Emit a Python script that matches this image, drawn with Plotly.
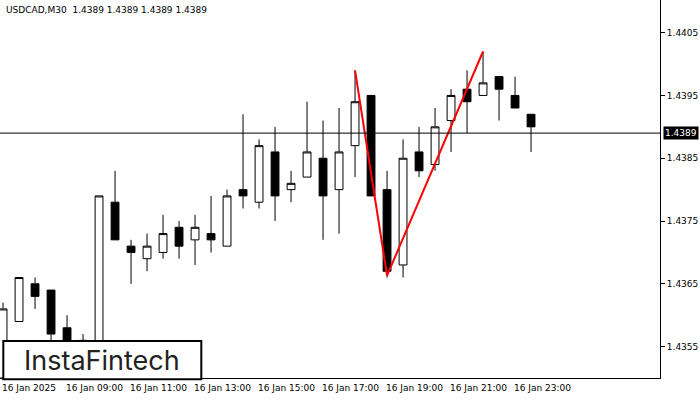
import plotly.graph_objects as go

# 30-minute candles, 16 Jan 2025 from 07:00
idx = list(range(34))
opens = [1.4350, 1.4359, 1.4365, 1.4364, 1.4358, 1.4354, 1.4354, 1.4378, 1.4371, 1.4369,
         1.4370, 1.4374, 1.4372, 1.4373, 1.4371, 1.4380, 1.4378, 1.4386, 1.4380, 1.4382,
         1.4385, 1.4380, 1.4387, 1.4395, 1.4380, 1.4368, 1.4386, 1.4384, 1.4391, 1.4396,
         1.4395, 1.4398, 1.4395, 1.4392]
highs = [1.4362, 1.4366, 1.4366, 1.4364, 1.4360, 1.4357, 1.4379, 1.4383, 1.4372, 1.4373,
         1.4376, 1.4375, 1.4376, 1.4379, 1.4380, 1.4392, 1.4388, 1.4390, 1.4383, 1.4394,
         1.4391, 1.4393, 1.4399, 1.4395, 1.4383, 1.4388, 1.4390, 1.4393, 1.4396, 1.4399,
         1.4402, 1.4398, 1.4398, 1.4392]
lows = [1.4348, 1.4359, 1.4361, 1.4356, 1.4353, 1.4352, 1.4352, 1.4372, 1.4365, 1.4367,
        1.4369, 1.4369, 1.4368, 1.4370, 1.4371, 1.4377, 1.4377, 1.4375, 1.4378, 1.4382,
        1.4372, 1.4373, 1.4382, 1.4379, 1.4366, 1.4366, 1.4382, 1.4383, 1.4386, 1.4389,
        1.4395, 1.4391, 1.4393, 1.4386]
closes = [1.4361, 1.4366, 1.4363, 1.4357, 1.4355, 1.4356, 1.4379, 1.4372, 1.4370, 1.4371,
          1.4373, 1.4371, 1.4374, 1.4372, 1.4379, 1.4379, 1.4387, 1.4379, 1.4381, 1.4386,
          1.4379, 1.4386, 1.4394, 1.4379, 1.4367, 1.4385, 1.4383, 1.4390, 1.4395, 1.4394,
          1.4397, 1.4396, 1.4393, 1.4390]

pattern_x = [22, 24, 30]
pattern_y = [1.4399, 1.43663, 1.4402]

last_price = 1.4389
ytick_vals = [1.4355, 1.4365, 1.4375, 1.4385, 1.4395, 1.4405]
time_idx = [0, 4, 8, 12, 16, 20, 24, 28, 32]
time_labels = ['16 Jan 2025', '16 Jan 09:00', '16 Jan 11:00', '16 Jan 13:00', '16 Jan 15:00',
               '16 Jan 17:00', '16 Jan 19:00', '16 Jan 21:00', '16 Jan 23:00']

fig = go.Figure()
fig.add_trace(go.Candlestick(
    x=idx, open=opens, high=highs, low=lows, close=closes,
    increasing=dict(fillcolor='white', line=dict(color='black', width=1)),
    decreasing=dict(fillcolor='black', line=dict(color='black', width=1)),
    whiskerwidth=0, showlegend=False, hoverinfo='skip'
))
fig.add_trace(go.Scatter(x=pattern_x, y=pattern_y, mode='lines',
                         line=dict(color='#ff0000', width=2), showlegend=False))

fig.add_hline(y=last_price, line=dict(color='black', width=1))

for i, lab in zip(time_idx, time_labels):
    fig.add_annotation(x=i, y=0, xref='x', yref='paper', yanchor='top', xanchor='left',
                       xshift=-3, yshift=-3, text=lab, showarrow=False,
                       font=dict(size=9, color='black', family='DejaVu Sans'))

fig.add_annotation(x=1, y=last_price, xref='paper', yref='y', xanchor='left', yanchor='middle',
                   xshift=3, text=f'{last_price:.4f}', showarrow=False, bgcolor='black',
                   borderpad=1, font=dict(size=9, color='white', family='DejaVu Sans'))

fig.add_annotation(x=0, y=1, xref='paper', yref='paper', xanchor='left', yanchor='top',
                   xshift=4, yshift=-3, showarrow=False,
                   text='USDCAD,M30  1.4389 1.4389 1.4389 1.4389',
                   font=dict(size=9, color='black', family='DejaVu Sans'))

fig.add_shape(type='rect', xref='paper', yref='paper', x0=0.005, x1=0.305, y0=-0.003, y1=0.098,
              fillcolor='white', line=dict(color='black', width=2))
fig.add_annotation(x=0.155, y=0.047, xref='paper', yref='paper', xanchor='center',
                   yanchor='middle', showarrow=False, text='InstaFintech',
                   font=dict(size=27, color='#222', family='Inter'))

fig.update_layout(
    width=700, height=400,
    margin=dict(l=0, r=40, t=0, b=22),
    paper_bgcolor='white', plot_bgcolor='white',
    xaxis=dict(range=[-0.19, 41.06], showgrid=False, showticklabels=False,
               rangeslider=dict(visible=False), showline=True, linecolor='black',
               mirror=True, zeroline=False, automargin=False),
    yaxis=dict(range=[1.43500, 1.44102], side='right', tickvals=ytick_vals,
               tickformat='.4f', ticks='outside', ticklen=4, tickcolor='black',
               showgrid=False, showline=True, linecolor='black', mirror=True,
               zeroline=False, automargin=False,
               tickfont=dict(size=9, color='black', family='DejaVu Sans')),
)

fig.write_html('out.html', config={'displayModeBar': False},
               post_script="document.body.style.margin='0';")
